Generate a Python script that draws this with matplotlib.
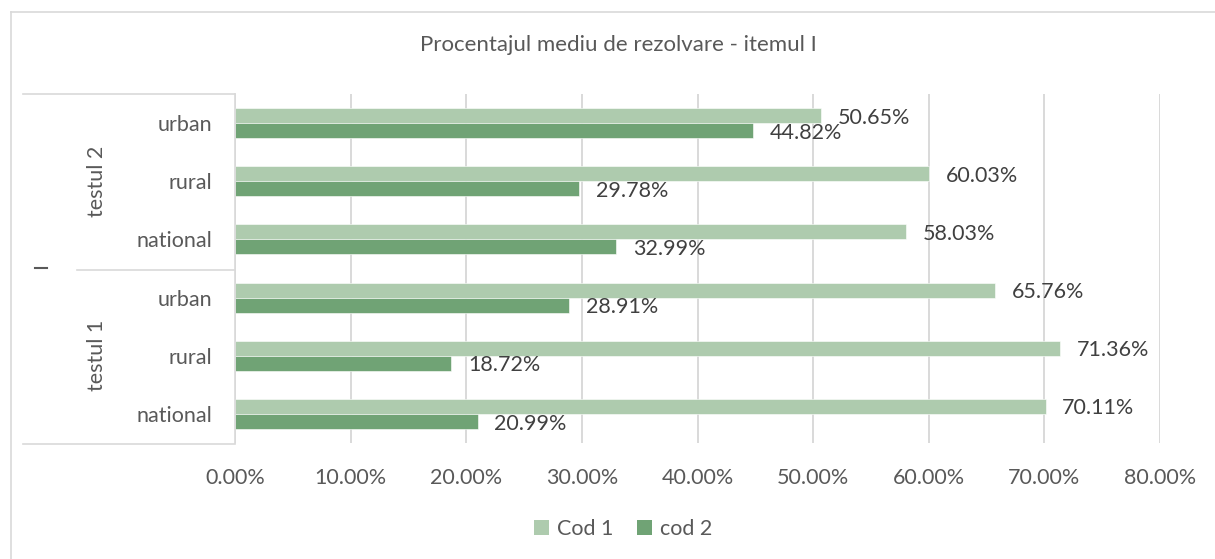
import matplotlib
matplotlib.use("Agg")
import matplotlib.pyplot as plt
from matplotlib.lines import Line2D
from matplotlib.patches import Patch
import numpy as np

plt.rcParams['font.family'] = ['Lato', 'DejaVu Sans']

categories = ["national", "rural", "urban", "national", "rural", "urban"]
groups = ["testul 1", "testul 2"]
cod1 = [70.11, 71.36, 65.76, 58.03, 60.03, 50.65]
cod2 = [20.99, 18.72, 28.91, 32.99, 29.78, 44.82]
series_names = ["Cod 1", "cod 2"]
xticks = [0, 10, 20, 30, 40, 50, 60, 70, 80]
title = "Procentajul mediu de rezolvare - itemul I"

W, H = 1215, 559
fig = plt.figure(figsize=(W / 100, H / 100), dpi=100)
fig.patch.set_facecolor("white")

def fx(px):
    return px / W

def fy(py):
    return 1 - py / H

ax = fig.add_axes([fx(235), fy(443), fx(1160) - fx(235), fy(94) - fy(443)])

c1 = "#AECBAE"
c2 = "#70A375"
grid_c = "#D9D9D9"
txt_c = "#595959"
lab_c = "#404040"
fs = 15.5

y = np.arange(len(categories))
h = 0.258
ax.barh(y + h / 2, cod1, height=h, color=c1, edgecolor="white", linewidth=0.4, zorder=3)
ax.barh(y - h / 2, cod2, height=h, color=c2, edgecolor="white", linewidth=0.4, zorder=3)

for yi, v in zip(y, cod1):
    ax.annotate(f"{v:.2f}%", (v, yi + h / 2), xytext=(12, -1.5), textcoords="offset points",
                va="center", ha="left", fontsize=fs, color=lab_c, zorder=4)
for yi, v in zip(y, cod2):
    ax.annotate(f"{v:.2f}%", (v, yi - h / 2), xytext=(12, -1.5), textcoords="offset points",
                va="center", ha="left", fontsize=fs, color=lab_c, zorder=4)

ax.set_xlim(0, 80)
ax.set_ylim(-0.5, len(categories) - 0.5)
ax.set_xticks(xticks)
ax.set_xticklabels([f"{t:.2f}%" for t in xticks])
ax.set_yticks(y)
ax.set_yticklabels(categories)
ax.tick_params(axis="x", length=0, pad=18, labelsize=fs, labelcolor=txt_c)
ax.tick_params(axis="y", length=0, pad=16.5, labelsize=fs, labelcolor=txt_c)
ax.grid(axis="x", color=grid_c, linewidth=1.4, zorder=0)
for s in ["top", "right", "bottom"]:
    ax.spines[s].set_visible(False)
ax.spines["left"].set_color(grid_c)
ax.spines["left"].set_linewidth(1.2)
ax.spines["left"].set_zorder(5)

# group labels
trans = matplotlib.transforms.blended_transform_factory(fig.transFigure, ax.transData)
ax.text(fx(97), 1.0, groups[0], transform=trans, rotation=90, ha="center", va="center",
        fontsize=fs, color=txt_c)
ax.text(fx(97), 4.0, groups[1], transform=trans, rotation=90, ha="center", va="center",
        fontsize=fs, color=txt_c)
fig.add_artist(Line2D([fx(35), fx(47)], [fy(268), fy(268)], color="#595959", linewidth=1.5))

# table lines on the left
for (x0, x1, yy) in [(23, 235, 94), (77, 235, 270), (23, 235, 444)]:
    fig.add_artist(Line2D([fx(x0), fx(x1)], [fy(yy), fy(yy)], color=grid_c, linewidth=1.2))

# chart border
fig.add_artist(Line2D([fx(11), fx(11)], [fy(12), fy(600)], color=grid_c, linewidth=1.2))
fig.add_artist(Line2D([fx(11), fx(1300)], [fy(12), fy(12)], color=grid_c, linewidth=1.2))

fig.text(fx(618), fy(45), title, ha="center", va="center", fontsize=16, color=txt_c)

handles = [Patch(facecolor=c1), Patch(facecolor=c2)]
fig.legend(handles, series_names, loc="center", bbox_to_anchor=(fx(623), fy(529)), ncol=2,
           frameon=False, fontsize=fs, labelcolor=txt_c, handlelength=0.7, handleheight=0.7,
           handletextpad=0.35, columnspacing=1.1)

fig.savefig("out.png", dpi=100)
